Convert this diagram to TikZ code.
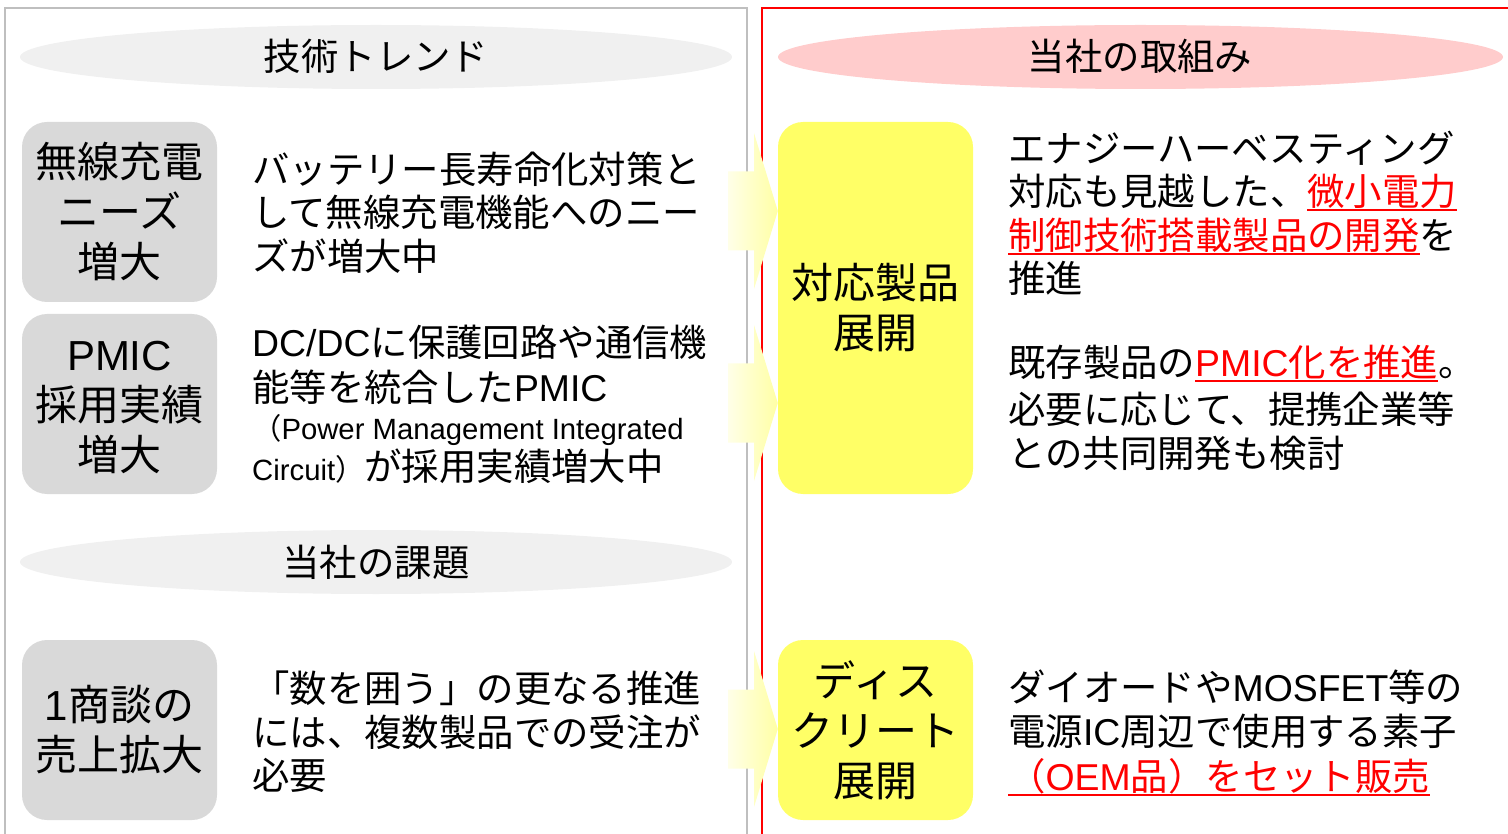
\documentclass[tikz,border=0pt]{standalone}
\usepackage{fontspec}
\setmainfont{Noto Sans CJK JP}
\newfontfamily\lat{Liberation Sans}
\usetikzlibrary{shapes.geometric}
\definecolor{framegray}{RGB}{191,191,191}
\definecolor{ellgray}{RGB}{240,240,240}
\definecolor{ellpink}{RGB}{255,204,204}
\definecolor{boxgray}{RGB}{217,217,217}
\definecolor{boxyellow}{RGB}{255,255,102}
\definecolor{arrL}{RGB}{255,255,232}
\definecolor{arrR}{RGB}{255,255,165}
\newcommand\rul[1]{{\color{red}\setbox0\hbox{#1}\rlap{\rule[-5.5pt]{\wd0}{2pt}}\box0}}
\tikzset{
  hdr/.style={anchor=base, inner sep=0pt, font=\fontsize{37.4}{44}\selectfont},
  txt/.style={anchor=base west, inner sep=0pt, font=\fontsize{37.4}{44}\selectfont},
  smalltxt/.style={anchor=base west, inner sep=0pt, font=\fontsize{29.3}{32}\selectfont},
  graybox/.style={rectangle, rounded corners=25pt, fill=boxgray, minimum width=195pt, inner sep=0pt, align=center, font=\fontsize{42}{50}\selectfont},
  yelbox/.style={rectangle, rounded corners=25pt, fill=boxyellow, minimum width=195pt, inner sep=0pt, align=center, font=\fontsize{42}{50}\selectfont},
  hellipse/.style={ellipse, inner sep=0pt},
  blockarrow/.style={left color=arrL, right color=arrR, draw=none}
}
\begin{document}
\begin{tikzpicture}[x=1pt,y=-1pt]
\useasboundingbox (0,0) rectangle (1508,834);
\begin{scope}
\clip (0,0) rectangle (1508,834);
% frames
\draw[framegray, line width=2pt] (5,850) -- (5,8) -- (747,8) -- (747,850);
\draw[red, line width=2pt] (762,850) -- (762,8) -- (1530,8);
% header ellipses
\node[hellipse, fill=ellgray, minimum width=712pt, minimum height=64pt] (e1) at (376,57) {};
\node[hellipse, fill=ellpink, minimum width=725pt, minimum height=64pt] (e2) at (1140.5,57) {};
\node[hellipse, fill=ellgray, minimum width=712pt, minimum height=64pt] (e3) at (376,562) {};
\node[hdr] (h1) at (376,71) {技術トレンド};
\node[hdr] (h2) at (1140,71) {当社の取組み};
\node[hdr] (h3) at (376,576) {当社の課題};

% gray boxes
\node[graybox, minimum height=180pt] (g1) at (119.5,212) {無線充電\\ニーズ\\増大};
\node[graybox, minimum height=180pt] (g2) at (119.5,404) {{\lat PMIC}\vphantom{増}\\採用実績\\増大};
\node[graybox, minimum height=180pt] (g3) at (119.5,730) {{\lat 1}商談の\\売上拡大};

% yellow boxes
\node[yelbox, minimum height=372pt] (y1) at (875.5,308) {対応製品\\展開};
\node[yelbox, minimum height=180pt] (y2) at (875.5,730) {ディス\\クリート\\展開};

% block arrows
\foreach \cy/\nm in {211/y1,403/y1,729/y2}{
  \shade[blockarrow] (728,\cy-39.5) -- (754,\cy-39.5) -- (754,\cy-78) -- (\nm.west |- 0,\cy) -- (754,\cy+78) -- (754,\cy+39.5) -- (728,\cy+39.5) -- cycle;
}

% middle texts
\node[txt] (a1) at (252,184) {バッテリー長寿命化対策と};
\node[txt] (a2) at (252,227) {して無線充電機能へのニー};
\node[txt] (a3) at (252,271) {ズが増大中};

\node[txt] (b1) at (252,357) {{\lat DC/DC}に保護回路や通信機};
\node[txt] (b2) at (252,401) {能等を統合した{\lat PMIC}};
\node[smalltxt] (b3) at (252,439) {（{\lat Power Management Integrated}};
\node[txt] (b4) at (252,480) {{\fontsize{29.3}{32}\selectfont{\lat Circuit}）}が採用実績増大中};

\node[txt] (c1) at (252,702) {「数を囲う」の更なる推進};
\node[txt] (c2) at (252,746) {には、複数製品での受注が};
\node[txt] (c3) at (252,789) {必要};

% right texts
\node[txt] (d1) at (1008,163) {エナジーハーベスティング};
\node[txt] (d2) at (1008,206) {対応も見越した、\rul{微小電力}};
\node[txt] (d3) at (1008,250) {\rul{制御技術搭載製品の開発}を};
\node[txt] (d4) at (1008,293) {推進};

\node[txt] (f1) at (1008,377) {既存製品の\rul{{\lat PMIC}化を推進}。};
\node[txt] (f2) at (1008,423) {必要に応じて、提携企業等};
\node[txt] (f3) at (1008,467) {との共同開発も検討};

\node[txt] (k1) at (1008,701) {ダイオードや{\lat MOSFET}等の};
\node[txt] (k2) at (1008,745) {電源{\lat IC}周辺で使用する素子};
\node[txt] (k3) at (1008,790) {\rul{（{\lat OEM}品）をセット販売}};
\end{scope}
\end{tikzpicture}
\end{document}
